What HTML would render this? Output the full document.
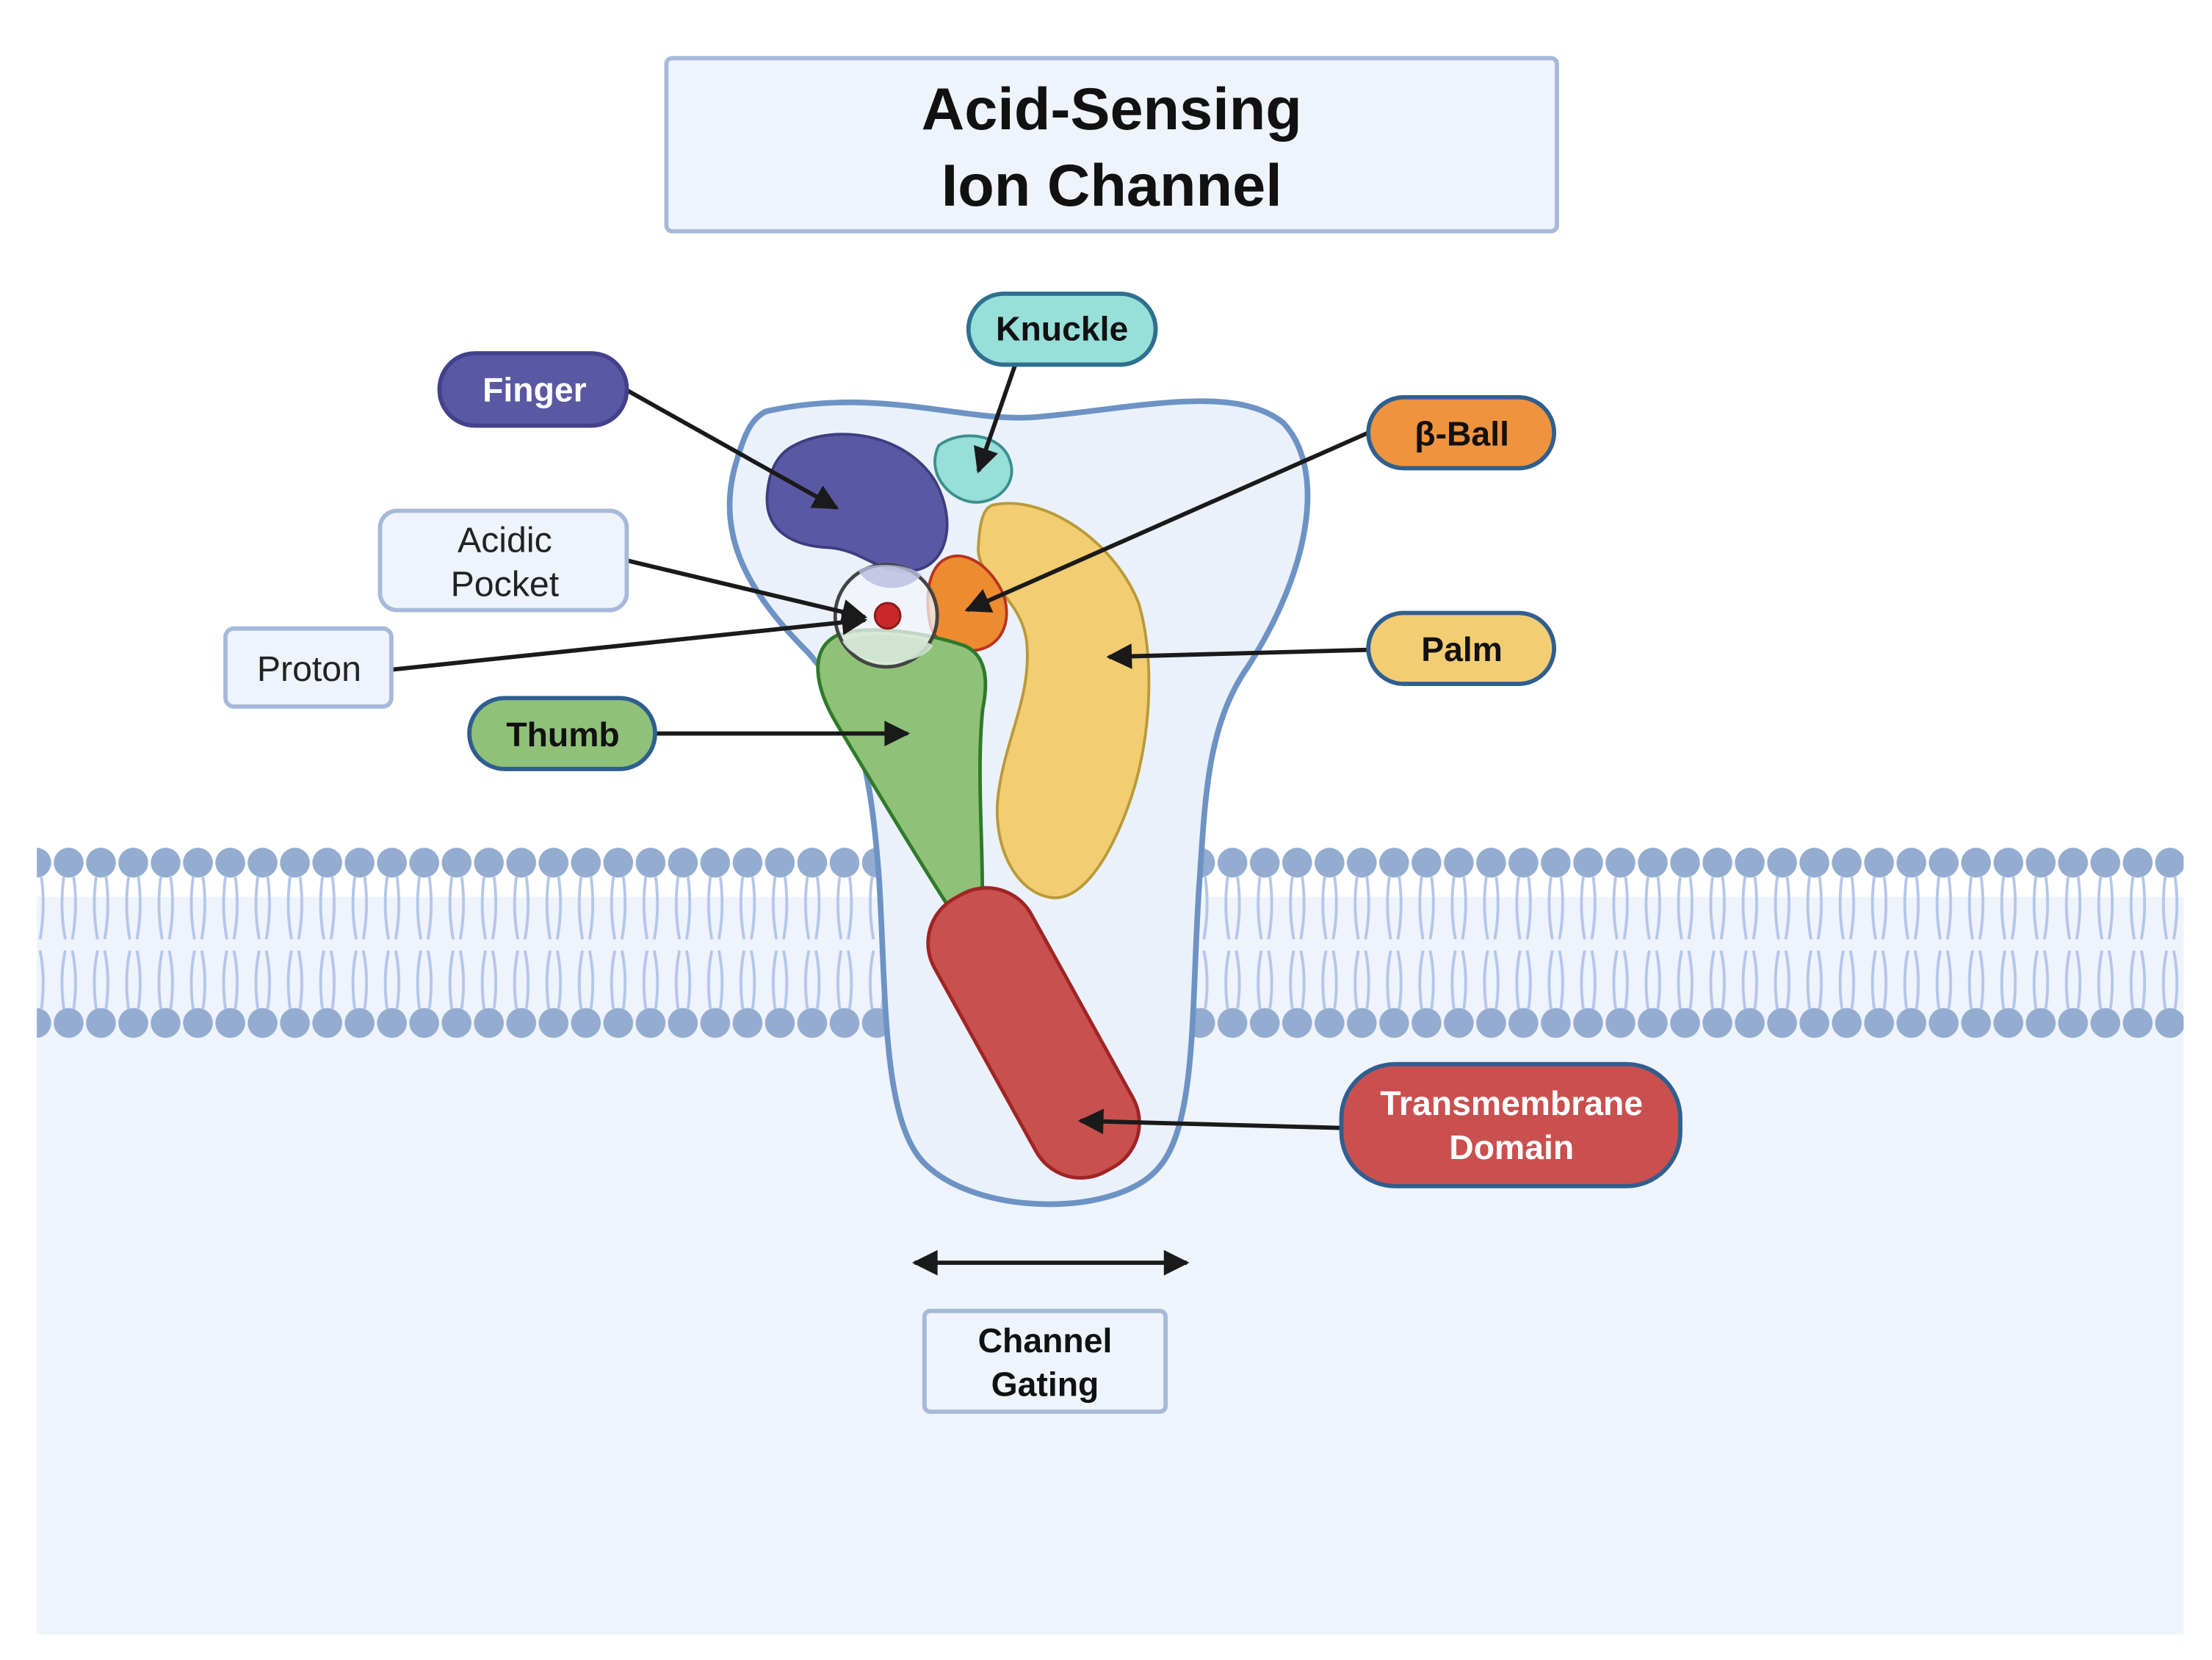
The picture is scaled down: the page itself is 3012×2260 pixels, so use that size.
<!DOCTYPE html>
<html><head><meta charset="utf-8"><style>
html,body{margin:0;padding:0;background:#fff;}
svg{display:block;}
text{font-family:"Liberation Sans",sans-serif;}
</style></head><body>
<svg width="3012" height="2260" viewBox="0 0 1560 1170" preserveAspectRatio="none" xmlns="http://www.w3.org/2000/svg">
<defs>
<marker id="ah" viewBox="0 0 10 10" refX="9" refY="5" markerWidth="6.5" markerHeight="6" orient="auto-start-reverse" markerUnits="strokeWidth">
<path d="M0,0 L10,5 L0,10 z" fill="#1a1a1a"/></marker>
<pattern id="heads" x="37" y="0" width="22.8" height="1170" patternUnits="userSpaceOnUse">
<circle cx="11.4" cy="608" r="10.5" fill="#93acd0"/>
<circle cx="11.4" cy="721" r="10.5" fill="#93acd0"/>
<path d="M8,618 Q5,640 9,662 M15,618 Q18,640 14,662 M8,711 Q5,689 9,670 M15,711 Q18,689 14,670" stroke="#b3c6ea" stroke-width="2" fill="none"/>
</pattern>
</defs>
<rect x="26" y="632" width="1514" height="520" fill="#eef3fc"/>
<rect x="26" y="596" width="1514" height="137" fill="url(#heads)"/>
<!-- channel -->
<path d="M540,290 C620,272 680,298 730,294 C800,288 870,270 905,298 C935,330 925,400 880,470 C852,510 850,560 846,620 C840,700 845,790 818,822 C790,858 690,858 652,820 C622,790 625,700 620,620 C614,540 605,500 570,460 C530,420 505,380 518,330 C525,305 530,295 540,290 Z" fill="#eaf1fb" stroke="#6d93c4" stroke-width="4"/>
<!-- finger -->
<path d="M560,314 C590,298 640,306 660,340 C675,368 668,398 645,402 C620,406 610,388 585,386 C560,385 540,375 541,350 C542,332 548,320 560,314 Z" fill="#5b58a3" stroke="#3f3d80" stroke-width="2"/>
<!-- knuckle -->
<path d="M662,314 C678,302 706,306 712,324 C718,340 705,353 690,354 C672,355 652,335 662,314 Z" fill="#98ded9" stroke="#3b8f8f" stroke-width="2"/>
<!-- palm -->
<path d="M700,356 C735,348 785,380 803,425 C815,465 812,525 795,570 C780,610 760,638 738,632 C712,625 700,590 704,560 C709,520 728,490 724,452 C720,420 688,408 690,385 C691,366 694,358 700,356 Z" fill="#f2cd72" stroke="#b99a3a" stroke-width="2"/>
<!-- beta ball -->
<path d="M665,395 C680,385 700,400 708,420 C714,440 705,455 690,458 C675,461 660,455 656,440 C652,420 655,402 665,395 Z" fill="#ee8a30" stroke="#b8331f" stroke-width="2"/>
<!-- thumb -->
<path d="M590,448 C610,440 650,445 680,455 C696,462 697,480 693,500 C688,550 695,610 692,650 C690,665 683,660 676,650 C650,610 620,560 590,510 C575,485 570,458 590,448 Z" fill="#8fc178" stroke="#2f7a2a" stroke-width="2.5"/>
<!-- acidic pocket -->
<circle cx="625" cy="434" r="36" fill="#f3f6fb" fill-opacity="0.75" stroke="#444" stroke-width="2.5"/>
<path d="M605,402 C615,396 640,397 650,405 C640,418 615,418 605,402 Z" fill="#b9bde0" opacity="0.8"/>
<path d="M594,452 C610,445 645,446 658,455 C650,470 605,472 594,452 Z" fill="#cfe3cf" opacity="0.9"/>
<circle cx="626" cy="434" r="9" fill="#c8282a" stroke="#8b1a1a" stroke-width="1.5"/>
<!-- TM -->
<rect x="690" y="618" width="78" height="220" rx="36" transform="rotate(-29 729 728)" fill="#c8504f" stroke="#a02424" stroke-width="2.5"/>
<!-- arrows -->
<g stroke="#1a1a1a" stroke-width="3" fill="none" marker-end="url(#ah)">
<line x1="442" y1="275" x2="590" y2="358"/>
<line x1="716" y1="257" x2="690" y2="332"/>
<line x1="965" y1="305" x2="682" y2="430"/>
<line x1="965" y1="458" x2="782" y2="463"/>
<line x1="442" y1="395" x2="610" y2="435"/>
<line x1="276" y1="472" x2="610" y2="437"/>
<line x1="462" y1="517" x2="640" y2="517"/>
<line x1="946" y1="795" x2="762" y2="790"/>
<line x1="645" y1="890" x2="837" y2="890" marker-start="url(#ah)"/>
</g>
<!-- title -->
<rect x="470" y="41" width="628" height="122" rx="4" fill="#eef3fc" stroke="#a7b9da" stroke-width="3"/>
<text x="784" y="91" font-size="42" font-weight="bold" text-anchor="middle" fill="#111">Acid-Sensing</text>
<text x="784" y="145" font-size="42" font-weight="bold" text-anchor="middle" fill="#111">Ion Channel</text>
<!-- labels -->
<g font-size="24" font-weight="bold" text-anchor="middle">
<rect x="310" y="249" width="132" height="51" rx="25" fill="#5b58a3" stroke="#43418a" stroke-width="3"/>
<text x="377" y="283" fill="#fff">Finger</text>
<rect x="683" y="207" width="132" height="50" rx="25" fill="#98ded9" stroke="#2f6f8f" stroke-width="3"/>
<text x="749" y="240" fill="#111">Knuckle</text>
<rect x="965" y="280" width="131" height="50" rx="25" fill="#ef933e" stroke="#2f5f8f" stroke-width="3"/>
<text x="1031" y="314" fill="#111">β-Ball</text>
<rect x="965" y="432" width="131" height="50" rx="25" fill="#f3cd72" stroke="#2f5f8f" stroke-width="3"/>
<text x="1031" y="466" fill="#111">Palm</text>
<rect x="331" y="492" width="131" height="50" rx="25" fill="#8fc178" stroke="#2f5f8f" stroke-width="3"/>
<text x="397" y="526" fill="#111">Thumb</text>
<rect x="946" y="750" width="239" height="86" rx="38" fill="#c9504f" stroke="#2f5f8f" stroke-width="3"/>
<text x="1066" y="786" fill="#fff">Transmembrane</text>
<text x="1066" y="817" fill="#fff">Domain</text>
<rect x="652" y="924" width="170" height="71" rx="4" fill="#eef3fc" stroke="#a7b9da" stroke-width="3"/>
<text x="737" y="953" fill="#111">Channel</text>
<text x="737" y="984" fill="#111">Gating</text>
</g>
<g font-size="25" text-anchor="middle" fill="#222">
<rect x="268" y="360" width="174" height="70" rx="12" fill="#eef3fc" stroke="#a7b9da" stroke-width="3"/>
<text x="356" y="389">Acidic</text>
<text x="356" y="420">Pocket</text>
<rect x="159" y="443" width="117" height="55" rx="6" fill="#eef3fc" stroke="#a7b9da" stroke-width="3"/>
<text x="218" y="480">Proton</text>
</g>
</svg>
</body></html>
